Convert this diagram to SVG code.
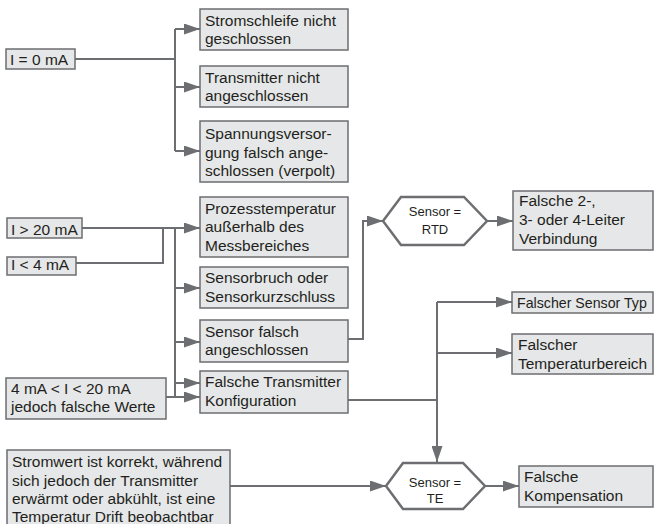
<svg xmlns="http://www.w3.org/2000/svg" width="654" height="524" viewBox="0 0 654 524">
<defs>
<style>
.box{fill:#e6e7e8;stroke:#6d6e71;stroke-width:1.5}
.hex{fill:#ffffff;stroke:#6d6e71;stroke-width:2.5}
.t{font-family:"Liberation Sans",Arial,sans-serif;font-size:15.5px;fill:#231f20}
.s{font-family:"Liberation Sans",Arial,sans-serif;font-size:13px;fill:#231f20;text-anchor:middle}
.c{fill:none;stroke:#6d6e71;stroke-width:2}
.a{fill:none;stroke:#6d6e71;stroke-width:2;marker-end:url(#ah)}
</style>
<marker id="ah" markerUnits="userSpaceOnUse" markerWidth="16" markerHeight="11" refX="16" refY="5.5" orient="auto">
<path d="M0,0 L16,5.5 L0,11 z" fill="#6d6e71"/>
</marker>
</defs>
<g id="connectors">
<path class="c" d="M75,59 H175 M175,29 V151"/>
<path class="a" d="M175,29 H200"/>
<path class="a" d="M175,87 H200"/>
<path class="a" d="M175,151 H200"/>
<path class="a" d="M82,228 H200"/>
<path class="c" d="M76,263 H163 V228 M175,228 V397"/>
<path class="a" d="M175,288 H200"/>
<path class="a" d="M175,342 H200"/>
<path class="a" d="M175,383 H200"/>
<path class="a" d="M166,397 H200"/>
<path class="a" d="M348,339 H363 V221 H383"/>
<path class="a" d="M487,221 H513"/>
<path class="c" d="M348,400 H437"/>
<path class="a" d="M437,302 V462"/>
<path class="a" d="M437,302 H512"/>
<path class="a" d="M437,353 H512"/>
<path class="a" d="M230,486 H386"/>
<path class="a" d="M485,486 H519"/>
</g>
<g id="n-i0"><rect class="box" x="6" y="49" width="69" height="20"/><text class="t" x="10" y="65">I = 0 mA</text></g>
<g id="n-strom"><rect class="box" x="200" y="9" width="148" height="41"/><text class="t" x="205" y="26">Stromschleife nicht</text><text class="t" x="205" y="44">geschlossen</text></g>
<g id="n-trans"><rect class="box" x="200" y="66" width="148" height="41"/><text class="t" x="205" y="83">Transmitter nicht</text><text class="t" x="205" y="101">angeschlossen</text></g>
<g id="n-spann"><rect class="box" x="200" y="121" width="148" height="61"/><text class="t" x="205" y="139">Spannungsversor-</text><text class="t" x="205" y="157.5">gung falsch ange-</text><text class="t" x="205" y="176">schlossen (verpolt)</text></g>
<g id="n-i20"><rect class="box" x="7" y="218" width="75" height="20"/><text class="t" x="11" y="234.5">I &gt; 20 mA</text></g>
<g id="n-i4"><rect class="box" x="7" y="257" width="69" height="18"/><text class="t" x="11" y="270">I &lt; 4 mA</text></g>
<g id="n-prozess"><rect class="box" x="200" y="197" width="148" height="60"/><text class="t" x="205" y="213.5">Prozesstemperatur</text><text class="t" x="205" y="232">außerhalb des</text><text class="t" x="205" y="250.5">Messbereiches</text></g>
<g id="n-bruch"><rect class="box" x="200" y="267" width="148" height="41"/><text class="t" x="205" y="283">Sensorbruch oder</text><text class="t" x="205" y="301.5">Sensorkurzschluss</text></g>
<g id="n-falsch"><rect class="box" x="200" y="320" width="148" height="42"/><text class="t" x="205" y="336.5">Sensor falsch</text><text class="t" x="205" y="355">angeschlossen</text></g>
<g id="n-konfig"><rect class="box" x="200" y="371" width="148" height="42"/><text class="t" x="205" y="387">Falsche Transmitter</text><text class="t" x="205" y="405.5">Konfiguration</text></g>
<g id="n-4mA"><rect class="box" x="6" y="378" width="160" height="41"/><text class="t" x="11" y="393.5">4 mA &lt; I &lt; 20 mA</text><text class="t" x="11" y="412">jedoch falsche Werte</text></g>
<g id="n-drift"><rect class="box" x="7" y="450" width="223" height="80"/><text class="t" x="12" y="467">Stromwert ist korrekt, während</text><text class="t" x="12" y="485.5">sich jedoch der Transmitter</text><text class="t" x="12" y="504">erwärmt oder abkühlt, ist eine</text><text class="t" x="12" y="522">Temperatur Drift beobachtbar</text></g>
<g id="n-rtd"><polygon class="hex" points="383,221 401,197 464,197 487,221 464,245 401,245"/><text class="s" x="435" y="216">Sensor =</text><text class="s" x="435" y="233.5">RTD</text></g>
<g id="n-leiter"><rect class="box" x="513" y="191" width="140" height="59"/><text class="t" x="519" y="205.5">Falsche 2-,</text><text class="t" x="519" y="225">3- oder 4-Leiter</text><text class="t" x="519" y="243.5">Verbindung</text></g>
<g id="n-typ"><rect class="box" x="512" y="292" width="141" height="21"/><text class="t" x="517" y="307.5" style="font-size:14.2px">Falscher Sensor Typ</text></g>
<g id="n-bereich"><rect class="box" x="512" y="334" width="141" height="40"/><text class="t" x="518" y="350">Falscher</text><text class="t" x="518" y="368.5">Temperaturbereich</text></g>
<g id="n-te"><polygon class="hex" points="386,486 403,463 463,463 485,486 463,509 403,509"/><text class="s" x="435" y="486.5">Sensor =</text><text class="s" x="435" y="502.5">TE</text></g>
<g id="n-komp"><rect class="box" x="519" y="466" width="134" height="41"/><text class="t" x="524" y="482">Falsche</text><text class="t" x="524" y="500.5">Kompensation</text></g>
</svg>
